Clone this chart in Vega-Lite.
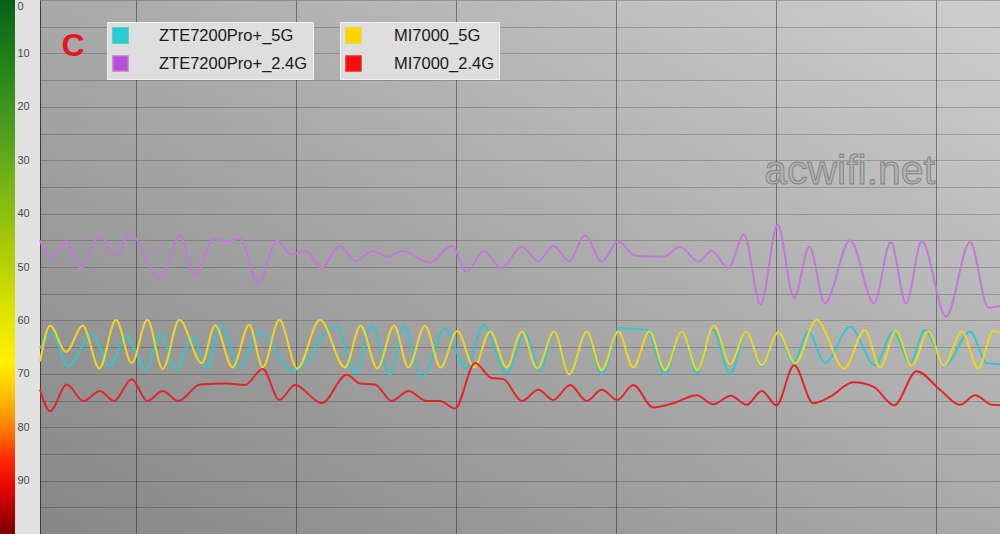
{
  "$schema": "https://vega.github.io/schema/vega-lite/v6.json",
  "padding": 0,
  "background": "#e2e2e2",
  "spacing": 0,
  "config": {"view": {"stroke": null}, "font": "Liberation Sans"},
  "datasets": {
    "series": [
      {"s":"ZTE7200Pro+_5G","t":0,"v":65.2},{"s":"ZTE7200Pro+_5G","t":0.75,"v":62.6},{"s":"ZTE7200Pro+_5G","t":1.75,"v":68.6},{"s":"ZTE7200Pro+_5G","t":3.25,"v":62.6},{"s":"ZTE7200Pro+_5G","t":4.38,"v":68.6},{"s":"ZTE7200Pro+_5G","t":5.38,"v":63.0},{"s":"ZTE7200Pro+_5G","t":6.63,"v":69.3},{"s":"ZTE7200Pro+_5G","t":7.5,"v":62.6},{"s":"ZTE7200Pro+_5G","t":8.5,"v":69.3},{"s":"ZTE7200Pro+_5G","t":9.56,"v":63.0},{"s":"ZTE7200Pro+_5G","t":10.44,"v":69.0},{"s":"ZTE7200Pro+_5G","t":11.25,"v":60.9},{"s":"ZTE7200Pro+_5G","t":12.5,"v":68.6},{"s":"ZTE7200Pro+_5G","t":13.75,"v":62.2},{"s":"ZTE7200Pro+_5G","t":15.81,"v":69.5},{"s":"ZTE7200Pro+_5G","t":18.54,"v":60.9},{"s":"ZTE7200Pro+_5G","t":19.69,"v":69.9},{"s":"ZTE7200Pro+_5G","t":20.73,"v":60.9},{"s":"ZTE7200Pro+_5G","t":21.88,"v":70.2},{"s":"ZTE7200Pro+_5G","t":22.71,"v":60.9},{"s":"ZTE7200Pro+_5G","t":23.86,"v":70.8},{"s":"ZTE7200Pro+_5G","t":25.31,"v":61.5},{"s":"ZTE7200Pro+_5G","t":26.63,"v":69.0},{"s":"ZTE7200Pro+_5G","t":27.71,"v":60.9},{"s":"ZTE7200Pro+_5G","t":29.17,"v":69.9},{"s":"ZTE7200Pro+_5G","t":30.31,"v":62.4},{"s":"ZTE7200Pro+_5G","t":31.25,"v":69.5},{"s":"ZTE7200Pro+_5G","t":32.13,"v":62.1},{"s":"ZTE7200Pro+_5G","t":33.08,"v":70.1},{"s":"ZTE7200Pro+_5G","t":34.17,"v":62.1},{"s":"ZTE7200Pro+_5G","t":35.11,"v":70.1},{"s":"ZTE7200Pro+_5G","t":36.25,"v":61.4},{"s":"ZTE7200Pro+_5G","t":37.06,"v":61.6},{"s":"ZTE7200Pro+_5G","t":37.92,"v":61.7},{"s":"ZTE7200Pro+_5G","t":39.06,"v":70.1},{"s":"ZTE7200Pro+_5G","t":40.11,"v":62.1},{"s":"ZTE7200Pro+_5G","t":41.04,"v":69.9},{"s":"ZTE7200Pro+_5G","t":42.08,"v":61.7},{"s":"ZTE7200Pro+_5G","t":43.13,"v":70.1},{"s":"ZTE7200Pro+_5G","t":44.13,"v":62.1},{"s":"ZTE7200Pro+_5G","t":45.11,"v":68.6},{"s":"ZTE7200Pro+_5G","t":46.14,"v":62.2},{"s":"ZTE7200Pro+_5G","t":47.08,"v":68.0},{"s":"ZTE7200Pro+_5G","t":48.02,"v":62.1},{"s":"ZTE7200Pro+_5G","t":49.06,"v":68.0},{"s":"ZTE7200Pro+_5G","t":50.63,"v":61.2},{"s":"ZTE7200Pro+_5G","t":52.19,"v":68.4},{"s":"ZTE7200Pro+_5G","t":53.33,"v":62.1},{"s":"ZTE7200Pro+_5G","t":54.38,"v":68.0},{"s":"ZTE7200Pro+_5G","t":55.31,"v":61.8},{"s":"ZTE7200Pro+_5G","t":56.56,"v":68.4},{"s":"ZTE7200Pro+_5G","t":58.13,"v":62.1},{"s":"ZTE7200Pro+_5G","t":59.17,"v":68.0},{"s":"ZTE7200Pro+_5G","t":60,"v":68.2},
      {"s":"ZTE7200Pro+_2.4G","t":0,"v":45.0},{"s":"ZTE7200Pro+_2.4G","t":0.63,"v":48.2},{"s":"ZTE7200Pro+_2.4G","t":1.67,"v":45.2},{"s":"ZTE7200Pro+_2.4G","t":2.54,"v":50.2},{"s":"ZTE7200Pro+_2.4G","t":3.71,"v":44.1},{"s":"ZTE7200Pro+_2.4G","t":4.75,"v":48.0},{"s":"ZTE7200Pro+_2.4G","t":5.63,"v":43.7},{"s":"ZTE7200Pro+_2.4G","t":7.5,"v":52.3},{"s":"ZTE7200Pro+_2.4G","t":8.75,"v":44.1},{"s":"ZTE7200Pro+_2.4G","t":9.69,"v":51.8},{"s":"ZTE7200Pro+_2.4G","t":10.83,"v":44.8},{"s":"ZTE7200Pro+_2.4G","t":11.67,"v":45.2},{"s":"ZTE7200Pro+_2.4G","t":12.5,"v":44.7},{"s":"ZTE7200Pro+_2.4G","t":13.64,"v":53.1},{"s":"ZTE7200Pro+_2.4G","t":14.83,"v":45.0},{"s":"ZTE7200Pro+_2.4G","t":15.69,"v":47.7},{"s":"ZTE7200Pro+_2.4G","t":16.56,"v":46.9},{"s":"ZTE7200Pro+_2.4G","t":17.61,"v":50.2},{"s":"ZTE7200Pro+_2.4G","t":18.71,"v":46.0},{"s":"ZTE7200Pro+_2.4G","t":19.69,"v":48.9},{"s":"ZTE7200Pro+_2.4G","t":20.79,"v":47.0},{"s":"ZTE7200Pro+_2.4G","t":21.71,"v":48.1},{"s":"ZTE7200Pro+_2.4G","t":22.67,"v":47.0},{"s":"ZTE7200Pro+_2.4G","t":24.38,"v":49.2},{"s":"ZTE7200Pro+_2.4G","t":25.73,"v":46.0},{"s":"ZTE7200Pro+_2.4G","t":26.67,"v":50.9},{"s":"ZTE7200Pro+_2.4G","t":27.71,"v":47.0},{"s":"ZTE7200Pro+_2.4G","t":28.86,"v":50.2},{"s":"ZTE7200Pro+_2.4G","t":30.11,"v":46.2},{"s":"ZTE7200Pro+_2.4G","t":31.14,"v":48.9},{"s":"ZTE7200Pro+_2.4G","t":32.08,"v":46.0},{"s":"ZTE7200Pro+_2.4G","t":33.08,"v":48.9},{"s":"ZTE7200Pro+_2.4G","t":34.06,"v":44.1},{"s":"ZTE7200Pro+_2.4G","t":35.11,"v":49.0},{"s":"ZTE7200Pro+_2.4G","t":36.14,"v":45.2},{"s":"ZTE7200Pro+_2.4G","t":37.19,"v":47.9},{"s":"ZTE7200Pro+_2.4G","t":38.96,"v":48.1},{"s":"ZTE7200Pro+_2.4G","t":40,"v":46.2},{"s":"ZTE7200Pro+_2.4G","t":41.14,"v":49.0},{"s":"ZTE7200Pro+_2.4G","t":41.98,"v":47.0},{"s":"ZTE7200Pro+_2.4G","t":43.02,"v":50.2},{"s":"ZTE7200Pro+_2.4G","t":44,"v":43.9},{"s":"ZTE7200Pro+_2.4G","t":45.04,"v":57.0},{"s":"ZTE7200Pro+_2.4G","t":46.1,"v":42.1},{"s":"ZTE7200Pro+_2.4G","t":47.13,"v":55.8},{"s":"ZTE7200Pro+_2.4G","t":48.08,"v":46.2},{"s":"ZTE7200Pro+_2.4G","t":49.06,"v":56.8},{"s":"ZTE7200Pro+_2.4G","t":50.63,"v":45.0},{"s":"ZTE7200Pro+_2.4G","t":52.13,"v":56.8},{"s":"ZTE7200Pro+_2.4G","t":53.17,"v":45.3},{"s":"ZTE7200Pro+_2.4G","t":54.13,"v":56.8},{"s":"ZTE7200Pro+_2.4G","t":55.11,"v":45.2},{"s":"ZTE7200Pro+_2.4G","t":56.63,"v":59.3},{"s":"ZTE7200Pro+_2.4G","t":58.13,"v":45.3},{"s":"ZTE7200Pro+_2.4G","t":59.27,"v":57.6},{"s":"ZTE7200Pro+_2.4G","t":60,"v":57.3},
      {"s":"MI7000_5G","t":0,"v":67.7},{"s":"MI7000_5G","t":0.63,"v":61.0},{"s":"MI7000_5G","t":1.63,"v":65.9},{"s":"MI7000_5G","t":2.67,"v":61.0},{"s":"MI7000_5G","t":3.71,"v":69.0},{"s":"MI7000_5G","t":4.75,"v":59.9},{"s":"MI7000_5G","t":5.73,"v":68.0},{"s":"MI7000_5G","t":6.71,"v":59.9},{"s":"MI7000_5G","t":7.67,"v":69.1},{"s":"MI7000_5G","t":8.71,"v":59.9},{"s":"MI7000_5G","t":10.11,"v":68.0},{"s":"MI7000_5G","t":10.94,"v":60.9},{"s":"MI7000_5G","t":12.04,"v":68.8},{"s":"MI7000_5G","t":13.08,"v":60.8},{"s":"MI7000_5G","t":13.92,"v":68.8},{"s":"MI7000_5G","t":14.96,"v":59.9},{"s":"MI7000_5G","t":16.08,"v":69.0},{"s":"MI7000_5G","t":17.5,"v":59.9},{"s":"MI7000_5G","t":19.06,"v":68.8},{"s":"MI7000_5G","t":20.04,"v":61.0},{"s":"MI7000_5G","t":21.08,"v":69.0},{"s":"MI7000_5G","t":22.13,"v":61.0},{"s":"MI7000_5G","t":23.02,"v":68.8},{"s":"MI7000_5G","t":24.06,"v":61.0},{"s":"MI7000_5G","t":25.04,"v":68.8},{"s":"MI7000_5G","t":26.08,"v":62.0},{"s":"MI7000_5G","t":27.13,"v":68.8},{"s":"MI7000_5G","t":28.13,"v":62.1},{"s":"MI7000_5G","t":29.17,"v":68.8},{"s":"MI7000_5G","t":30.11,"v":62.1},{"s":"MI7000_5G","t":31.08,"v":69.0},{"s":"MI7000_5G","t":32.13,"v":62.1},{"s":"MI7000_5G","t":33.08,"v":70.1},{"s":"MI7000_5G","t":34.17,"v":62.1},{"s":"MI7000_5G","t":35.11,"v":69.3},{"s":"MI7000_5G","t":36.14,"v":62.1},{"s":"MI7000_5G","t":37.08,"v":68.8},{"s":"MI7000_5G","t":38.08,"v":62.1},{"s":"MI7000_5G","t":39.06,"v":69.3},{"s":"MI7000_5G","t":40.11,"v":62.1},{"s":"MI7000_5G","t":41.08,"v":69.3},{"s":"MI7000_5G","t":42.13,"v":61.0},{"s":"MI7000_5G","t":43.13,"v":68.2},{"s":"MI7000_5G","t":44.13,"v":62.1},{"s":"MI7000_5G","t":45.11,"v":68.4},{"s":"MI7000_5G","t":46.14,"v":62.2},{"s":"MI7000_5G","t":47.19,"v":68.0},{"s":"MI7000_5G","t":48.54,"v":59.9},{"s":"MI7000_5G","t":50.25,"v":69.0},{"s":"MI7000_5G","t":51.56,"v":61.8},{"s":"MI7000_5G","t":52.5,"v":68.8},{"s":"MI7000_5G","t":53.5,"v":62.0},{"s":"MI7000_5G","t":54.48,"v":68.5},{"s":"MI7000_5G","t":55.52,"v":62.1},{"s":"MI7000_5G","t":56.5,"v":68.4},{"s":"MI7000_5G","t":57.61,"v":62.1},{"s":"MI7000_5G","t":58.64,"v":69.0},{"s":"MI7000_5G","t":59.58,"v":62.0},{"s":"MI7000_5G","t":60,"v":62.4},
      {"s":"MI7000_2.4G","t":0,"v":73.0},{"s":"MI7000_2.4G","t":0.63,"v":77.0},{"s":"MI7000_2.4G","t":1.67,"v":72.0},{"s":"MI7000_2.4G","t":2.71,"v":75.1},{"s":"MI7000_2.4G","t":3.75,"v":73.2},{"s":"MI7000_2.4G","t":4.63,"v":75.1},{"s":"MI7000_2.4G","t":5.73,"v":71.0},{"s":"MI7000_2.4G","t":6.71,"v":75.1},{"s":"MI7000_2.4G","t":7.67,"v":73.2},{"s":"MI7000_2.4G","t":8.64,"v":75.1},{"s":"MI7000_2.4G","t":10,"v":72.0},{"s":"MI7000_2.4G","t":11.67,"v":71.8},{"s":"MI7000_2.4G","t":12.81,"v":72.1},{"s":"MI7000_2.4G","t":13.92,"v":69.1},{"s":"MI7000_2.4G","t":14.96,"v":74.9},{"s":"MI7000_2.4G","t":15.94,"v":72.1},{"s":"MI7000_2.4G","t":17.61,"v":75.5},{"s":"MI7000_2.4G","t":19.17,"v":70.2},{"s":"MI7000_2.4G","t":20,"v":71.8},{"s":"MI7000_2.4G","t":20.94,"v":72.0},{"s":"MI7000_2.4G","t":21.98,"v":75.1},{"s":"MI7000_2.4G","t":23.02,"v":73.2},{"s":"MI7000_2.4G","t":24.17,"v":75.1},{"s":"MI7000_2.4G","t":25,"v":75.1},{"s":"MI7000_2.4G","t":25.94,"v":76.5},{"s":"MI7000_2.4G","t":27.19,"v":68.0},{"s":"MI7000_2.4G","t":28.23,"v":70.8},{"s":"MI7000_2.4G","t":28.96,"v":71.0},{"s":"MI7000_2.4G","t":30.11,"v":75.1},{"s":"MI7000_2.4G","t":31.14,"v":73.0},{"s":"MI7000_2.4G","t":32.08,"v":74.9},{"s":"MI7000_2.4G","t":33.13,"v":72.1},{"s":"MI7000_2.4G","t":34.17,"v":75.1},{"s":"MI7000_2.4G","t":35.11,"v":73.0},{"s":"MI7000_2.4G","t":36.08,"v":74.9},{"s":"MI7000_2.4G","t":37.08,"v":72.1},{"s":"MI7000_2.4G","t":38.33,"v":76.3},{"s":"MI7000_2.4G","t":39.58,"v":75.5},{"s":"MI7000_2.4G","t":41.04,"v":74.0},{"s":"MI7000_2.4G","t":42.08,"v":75.7},{"s":"MI7000_2.4G","t":43.17,"v":74.1},{"s":"MI7000_2.4G","t":44.17,"v":75.8},{"s":"MI7000_2.4G","t":45.11,"v":73.2},{"s":"MI7000_2.4G","t":46.03,"v":75.9},{"s":"MI7000_2.4G","t":47.13,"v":68.4},{"s":"MI7000_2.4G","t":48.33,"v":75.5},{"s":"MI7000_2.4G","t":49.38,"v":74.3},{"s":"MI7000_2.4G","t":50.83,"v":71.6},{"s":"MI7000_2.4G","t":52.08,"v":72.4},{"s":"MI7000_2.4G","t":53.38,"v":75.9},{"s":"MI7000_2.4G","t":54.79,"v":69.5},{"s":"MI7000_2.4G","t":56.25,"v":73.0},{"s":"MI7000_2.4G","t":57.5,"v":75.8},{"s":"MI7000_2.4G","t":58.44,"v":74.0},{"s":"MI7000_2.4G","t":59.48,"v":75.8},{"s":"MI7000_2.4G","t":60,"v":75.9}
    ]
  },
  "hconcat": [
    {
      "width": 15,
      "height": 534,
      "data": {"values": [{"lo": 0, "hi": 100, "l": 0, "r": 1}]},
      "mark": {
        "type": "rect",
        "color": {
          "gradient": "linear", "x1": 0, "y1": 0, "x2": 0, "y2": 1,
          "stops": [
            {"offset": 0, "color": "#07601a"},
            {"offset": 0.1, "color": "#1f7e16"},
            {"offset": 0.2, "color": "#3e9420"},
            {"offset": 0.3, "color": "#63aa1c"},
            {"offset": 0.4, "color": "#8ebf10"},
            {"offset": 0.5, "color": "#b8d200"},
            {"offset": 0.6, "color": "#e5e600"},
            {"offset": 0.68, "color": "#fff000"},
            {"offset": 0.74, "color": "#ffc000"},
            {"offset": 0.8, "color": "#ff8000"},
            {"offset": 0.86, "color": "#ff2a00"},
            {"offset": 0.92, "color": "#e00000"},
            {"offset": 1, "color": "#7a0000"}
          ]
        }
      },
      "encoding": {
        "x": {"field": "l", "type": "quantitative", "scale": {"domain": [0, 1]}, "axis": null},
        "x2": {"field": "r"},
        "y": {"field": "lo", "type": "quantitative", "scale": {"domain": [0, 100], "reverse": true}, "axis": null},
        "y2": {"field": "hi"}
      }
    },
    {
      "width": 960,
      "height": 534,
      "view": {
        "fill": {
          "gradient": "linear", "x1": 0, "y1": 1, "x2": 1, "y2": 0,
          "stops": [
            {"offset": 0, "color": "#878787"},
            {"offset": 0.5, "color": "#a9a9a9"},
            {"offset": 1, "color": "#cecece"}
          ]
        },
        "stroke": null
      },
      "data": {"name": "series"},
      "encoding": {
        "x": {
          "field": "t", "type": "quantitative",
          "scale": {"domain": [0, 60], "nice": false, "zero": false},
          "axis": {"values": [6, 16, 26, 36, 46, 56], "grid": true, "labels": false, "ticks": false, "domain": false, "title": null, "gridColor": "#000000", "gridOpacity": 0.38, "minExtent": 0, "maxExtent": 0}
        },
        "y": {
          "field": "v", "type": "quantitative",
          "scale": {"domain": [0, 100], "reverse": true, "nice": false},
          "axis": {
            "values": [0, 5, 10, 15, 20, 25, 30, 35, 40, 45, 50, 55, 60, 65, 70, 75, 80, 85, 90, 95, 100],
            "labelExpr": "datum.value % 10 === 0 && datum.value < 100 ? datum.label : ''",
            "grid": true, "gridColor": "#000000", "gridOpacity": 0.2,
            "ticks": false, "domain": true, "domainColor": "#3c3c3c", "domainWidth": 1,
            "labelAlign": "left", "labelPadding": 23, "labelFont": "Liberation Sans", "labelFontSize": 11,
            "labelColor": "#4a4a4a", "labelFlush": true, "minExtent": 25, "maxExtent": 25, "title": null
          }
        }
      },
      "layer": [
        {
          "transform": [{"filter": {"field": "s", "oneOf": ["ZTE7200Pro+_5G", "ZTE7200Pro+_2.4G"]}}],
          "mark": {"type": "line", "interpolate": "monotone", "strokeWidth": 2},
          "encoding": {
            "stroke": {
              "field": "s", "type": "nominal",
              "scale": {"domain": ["ZTE7200Pro+_5G", "ZTE7200Pro+_2.4G"], "range": ["#35c5cf", "#c377d8"]},
              "legend": {
                "orient": "none", "legendX": 107, "legendY": 22, "direction": "vertical", "title": null,
                "symbolType": "square", "symbolSize": 225, "labelOffset": 30, "labelFontSize": 16.5,
                "labelFont": "Liberation Sans", "labelColor": "#1a1a1a", "labelLimit": 400,
                "labelExpr": "datum.label + '\u00a0\u00a0'",
                "rowPadding": 7, "padding": 5, "fillColor": "#dedede", "strokeColor": "#f0f0f0",
                "encode": {"symbols": {"update": {
                  "fill": {"signal": "datum.value === 'ZTE7200Pro+_5G' ? '#26cdd0' : '#b452dc'"},
                  "stroke": {"value": "#8a8a8a"}, "strokeWidth": {"value": 1.5}, "opacity": {"value": 1}
                }}}
              }
            }
          }
        },
        {
          "transform": [{"filter": {"field": "s", "oneOf": ["MI7000_5G", "MI7000_2.4G"]}}],
          "mark": {"type": "line", "interpolate": "monotone", "strokeWidth": 2},
          "encoding": {
            "color": {
              "field": "s", "type": "nominal",
              "scale": {"domain": ["MI7000_5G", "MI7000_2.4G"], "range": ["#f1d523", "#e3242b"]},
              "legend": {
                "orient": "none", "legendX": 340, "legendY": 22, "direction": "vertical", "title": null,
                "symbolType": "square", "symbolSize": 225, "labelOffset": 32, "labelFontSize": 16.5,
                "labelFont": "Liberation Sans", "labelColor": "#1a1a1a", "labelLimit": 400,
                "labelExpr": "datum.label + '\u00a0\u00a0\u00a0\u00a0\u00a0'",
                "rowPadding": 7, "padding": 5, "fillColor": "#dedede", "strokeColor": "#f0f0f0",
                "encode": {"symbols": {"update": {
                  "fill": {"signal": "datum.value === 'MI7000_5G' ? '#ffd400' : '#ff0a0a'"},
                  "stroke": {"value": "#8a8a8a"}, "strokeWidth": {"value": 1.5}, "opacity": {"value": 1}
                }}}
              }
            }
          }
        },
        {
          "data": {"values": [{"label": "C", "t": 2.06, "v": 8.6}]},
          "mark": {"type": "text", "font": "Liberation Sans", "fontWeight": "bold", "fontSize": 32, "color": "#e8141e", "baseline": "middle", "align": "center"},
          "encoding": {"text": {"field": "label"}}
        },
        {
          "data": {"values": [{"label": "acwifi.net", "t": 50.6, "v": 32.2}]},
          "mark": {"type": "text", "font": "Liberation Sans", "fontSize": 41, "color": "#b2b2b2", "stroke": "#858585", "strokeWidth": 1, "baseline": "middle", "align": "center"},
          "encoding": {"text": {"field": "label"}}
        }
      ]
    }
  ]
}
